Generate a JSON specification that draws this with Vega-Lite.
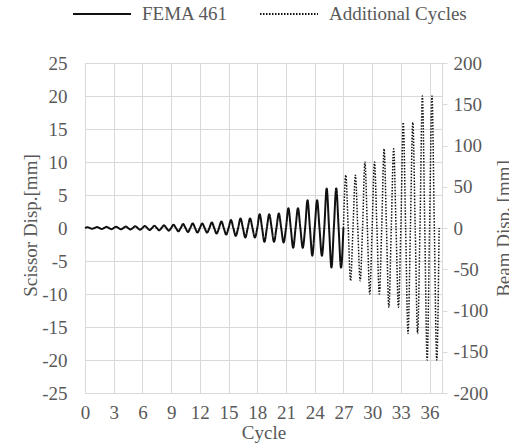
{
  "$schema": "https://vega.github.io/schema/vega-lite/v6.json",
  "width": 357,
  "height": 330,
  "autosize": {"type": "none"},
  "padding": {"left": 85, "top": 63, "right": 67, "bottom": 54},
  "background": "white",
  "config": {
    "font": "Times New Roman, Liberation Serif, DejaVu Serif, serif",
    "view": {"stroke": "#d9d9d9", "strokeWidth": 1},
    "axis": {
      "labelFont": "Times New Roman, Liberation Serif, DejaVu Serif, serif",
      "titleFont": "Times New Roman, Liberation Serif, DejaVu Serif, serif",
      "labelFontSize": 19, "labelColor": "#595959",
      "titleFontSize": 19, "titleColor": "#595959", "titleFontWeight": "normal",
      "gridColor": "#d9d9d9", "gridWidth": 1, "domainColor": "#d9d9d9", "tickColor": "#d9d9d9"
    },
    "legend": {"labelFont": "Times New Roman, Liberation Serif, DejaVu Serif, serif", "labelFontSize": 19, "labelColor": "#595959"}
  },
  "datasets": {
    "fema": [
      {"c":0,"v":0},{"c":0.25,"v":0.12},{"c":0.5,"v":0},{"c":0.75,"v":-0.12},
      {"c":1,"v":0},{"c":1.25,"v":0.15},{"c":1.5,"v":0},{"c":1.75,"v":-0.15},
      {"c":2,"v":0},{"c":2.25,"v":0.18},{"c":2.5,"v":0},{"c":2.75,"v":-0.18},
      {"c":3,"v":0},{"c":3.25,"v":0.2},{"c":3.5,"v":0},{"c":3.75,"v":-0.2},
      {"c":4,"v":0},{"c":4.25,"v":0.22},{"c":4.5,"v":0},{"c":4.75,"v":-0.22},
      {"c":5,"v":0},{"c":5.25,"v":0.26},{"c":5.5,"v":0},{"c":5.75,"v":-0.26},
      {"c":6,"v":0},{"c":6.25,"v":0.3},{"c":6.5,"v":0},{"c":6.75,"v":-0.3},
      {"c":7,"v":0},{"c":7.25,"v":0.35},{"c":7.5,"v":0},{"c":7.75,"v":-0.35},
      {"c":8,"v":0},{"c":8.25,"v":0.4},{"c":8.5,"v":0},{"c":8.75,"v":-0.4},
      {"c":9,"v":0},{"c":9.25,"v":0.5},{"c":9.5,"v":0},{"c":9.75,"v":-0.5},
      {"c":10,"v":0},{"c":10.25,"v":0.6},{"c":10.5,"v":0},{"c":10.75,"v":-0.6},
      {"c":11,"v":0},{"c":11.25,"v":0.7},{"c":11.5,"v":0},{"c":11.75,"v":-0.7},
      {"c":12,"v":0},{"c":12.25,"v":0.7},{"c":12.5,"v":0},{"c":12.75,"v":-0.7},
      {"c":13,"v":0},{"c":13.25,"v":0.85},{"c":13.5,"v":0},{"c":13.75,"v":-0.85},
      {"c":14,"v":0},{"c":14.25,"v":1.0},{"c":14.5,"v":0},{"c":14.75,"v":-1.0},
      {"c":15,"v":0},{"c":15.25,"v":1.2},{"c":15.5,"v":0},{"c":15.75,"v":-1.2},
      {"c":16,"v":0},{"c":16.25,"v":1.45},{"c":16.5,"v":0},{"c":16.75,"v":-1.45},
      {"c":17,"v":0},{"c":17.25,"v":1.45},{"c":17.5,"v":0},{"c":17.75,"v":-1.45},
      {"c":18,"v":0},{"c":18.25,"v":2.1},{"c":18.5,"v":0},{"c":18.75,"v":-2.1},
      {"c":19,"v":0},{"c":19.25,"v":2.1},{"c":19.5,"v":0},{"c":19.75,"v":-2.1},
      {"c":20,"v":0},{"c":20.25,"v":2.2},{"c":20.5,"v":0},{"c":20.75,"v":-2.2},
      {"c":21,"v":0},{"c":21.25,"v":3.0},{"c":21.5,"v":0},{"c":21.75,"v":-3.0},
      {"c":22,"v":0},{"c":22.25,"v":3.0},{"c":22.5,"v":0},{"c":22.75,"v":-3.0},
      {"c":23,"v":0},{"c":23.25,"v":4.2},{"c":23.5,"v":0},{"c":23.75,"v":-4.2},
      {"c":24,"v":0},{"c":24.25,"v":4.2},{"c":24.5,"v":0},{"c":24.75,"v":-4.2},
      {"c":25,"v":0},{"c":25.25,"v":6.0},{"c":25.5,"v":0},{"c":25.75,"v":-6.0},
      {"c":26,"v":0},{"c":26.25,"v":6.0},{"c":26.5,"v":0},{"c":26.75,"v":-6.0},
      {"c":27,"v":0}
    ],
    "extra": [
      {"c":27,"v":0},{"c":27.25,"v":64},{"c":27.5,"v":0},{"c":27.75,"v":-64},
      {"c":28,"v":0},{"c":28.25,"v":64},{"c":28.5,"v":0},{"c":28.75,"v":-64},
      {"c":29,"v":0},{"c":29.25,"v":80},{"c":29.5,"v":0},{"c":29.75,"v":-80},
      {"c":30,"v":0},{"c":30.25,"v":80},{"c":30.5,"v":0},{"c":30.75,"v":-80},
      {"c":31,"v":0},{"c":31.25,"v":96},{"c":31.5,"v":0},{"c":31.75,"v":-96},
      {"c":32,"v":0},{"c":32.25,"v":96},{"c":32.5,"v":0},{"c":32.75,"v":-96},
      {"c":33,"v":0},{"c":33.25,"v":128},{"c":33.5,"v":0},{"c":33.75,"v":-128},
      {"c":34,"v":0},{"c":34.25,"v":128},{"c":34.5,"v":0},{"c":34.75,"v":-128},
      {"c":35,"v":0},{"c":35.25,"v":160},{"c":35.5,"v":0},{"c":35.75,"v":-160},
      {"c":36,"v":0},{"c":36.25,"v":160},{"c":36.5,"v":0},{"c":36.75,"v":-160},
      {"c":37,"v":0}
    ]
  },
  "encoding": {
    "x": {"field": "c", "type": "quantitative", "scale": {"domain": [0, 37.3], "nice": false},
      "axis": {"values": [0,3,6,9,12,15,18,21,24,27,30,33,36], "ticks": false, "domain": false, "labelPadding": 10, "title": "Cycle", "titlePadding": 1, "labelFlush": false, "labelOverlap": false}}
  },
  "layer": [
    {
      "data": {"name": "fema"},
      "mark": {"type": "line", "interpolate": "monotone", "color": "#111111", "strokeWidth": 2},
      "encoding": {
        "y": {"field": "v", "type": "quantitative", "scale": {"domain": [-25, 25], "nice": false},
          "axis": {"values": [-25,-20,-15,-10,-5,0,5,10,15,20,25], "ticks": false, "domain": false, "labelPadding": 18, "labelExpr": "datum.value + ''",
            "title": "Scissor Disp.[mm]", "titleAngle": 270, "titleX": -55, "titleY": 162, "titleAlign": "center", "titleBaseline": "middle"}},
        "strokeDash": {"datum": "FEMA 461", "type": "nominal",
          "scale": {"domain": ["FEMA 461", "Additional Cycles"], "range": [[1, 0], [1.5, 1.5]]},
          "legend": {"title": null, "orient": "none", "direction": "horizontal", "legendX": -13, "legendY": -79,
            "symbolType": "stroke", "symbolSize": 3364, "symbolStrokeWidth": 2, "symbolStrokeColor": "#111111",
            "labelOffset": 10, "columnPadding": 27}}
      }
    },
    {
      "data": {"name": "extra"},
      "mark": {"type": "line", "interpolate": "monotone", "color": "#111111", "strokeWidth": 1.5},
      "encoding": {
        "y": {"field": "v", "type": "quantitative", "scale": {"domain": [-200, 200], "nice": false},
          "axis": {"orient": "right", "values": [-200,-150,-100,-50,0,50,100,150,200], "grid": false, "ticks": true, "tickSize": 5, "domain": true, "labelPadding": 6, "labelExpr": "datum.value + ''",
            "title": "Beam Disp. [mm]", "titleAngle": 270, "titleX": 61, "titleY": 165, "titleAlign": "center", "titleBaseline": "middle"}},
        "strokeDash": {"datum": "Additional Cycles", "type": "nominal"}
      }
    }
  ],
  "resolve": {"scale": {"y": "independent"}, "axis": {"y": "independent"}}
}
